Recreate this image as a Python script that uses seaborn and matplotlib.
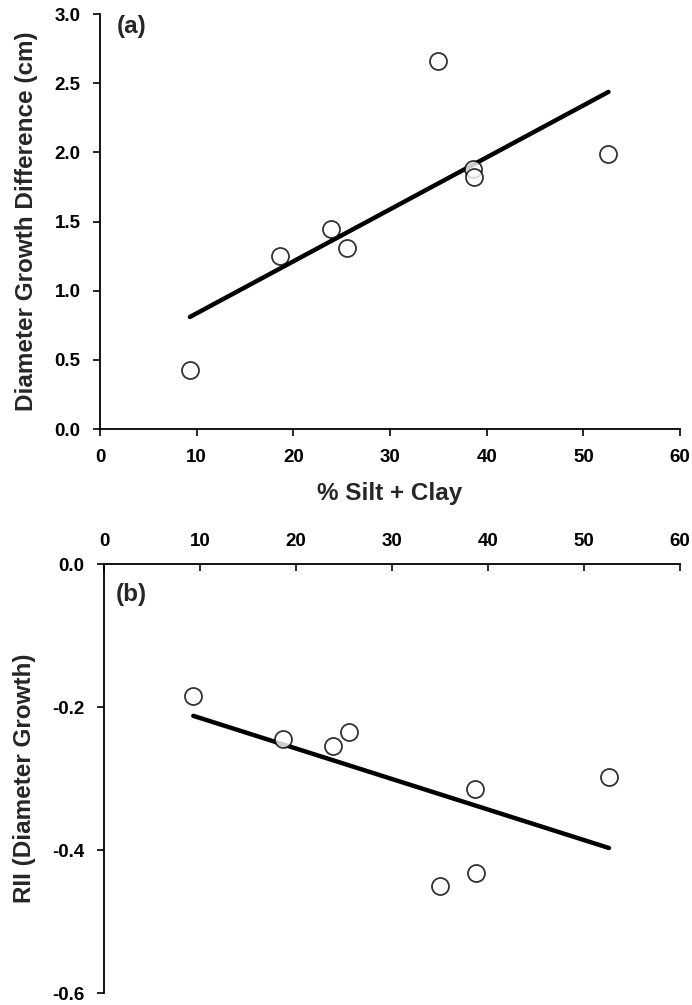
import matplotlib
matplotlib.use("Agg")
import matplotlib.pyplot as plt
import seaborn as sns
import pandas as pd

silt_clay = [9.3, 18.6, 23.9, 25.5, 35.0, 38.6, 38.7, 52.6]
diam_diff = [0.43, 1.25, 1.45, 1.31, 2.66, 1.88, 1.82, 1.99]
rii_diam = [-0.185, -0.245, -0.255, -0.235, -0.450, -0.315, -0.432, -0.298]

x_ticks = [0, 10, 20, 30, 40, 50, 60]
ya_ticks = [0.0, 0.5, 1.0, 1.5, 2.0, 2.5, 3.0]
yb_ticks = [0.0, -0.2, -0.4, -0.6]

df = pd.DataFrame({"x": silt_clay, "a": diam_diff, "b": rii_diam})

sns.set_style("ticks")
plt.rcParams["font.family"] = ["Liberation Sans", "DejaVu Sans"]
plt.rcParams["font.weight"] = "bold"

fig = plt.figure(figsize=(6.92, 10.05), dpi=100)
ax1 = fig.add_axes([0.1445, 0.573, 0.8382, 0.413])
ax2 = fig.add_axes([0.1503, 0.0119, 0.8324, 0.4269])

scatter_kws = dict(s=150, facecolors="white", edgecolors="black", linewidths=1.3, zorder=3)
line_kws = dict(color="black", lw=3.2, zorder=2)

for ax, col in ((ax1, "a"), (ax2, "b")):
    sns.regplot(data=df, x="x", y=col, ax=ax, ci=None, truncate=True,
                scatter_kws=scatter_kws, line_kws=line_kws, color="black")

LABEL_FS = 17.5
TICK_FS = 13.5

# Panel (a)
ax1.set_xlim(0, 60)
ax1.set_ylim(0, 3.0)
ax1.set_xticks(x_ticks)
ax1.set_yticks(ya_ticks)
ax1.set_yticklabels([f"{v:.1f}" for v in ya_ticks])
ax1.set_xlabel("% Silt + Clay", fontsize=LABEL_FS, fontweight="bold", labelpad=12)
ax1.set_ylabel("Diameter Growth Difference (cm)", fontsize=LABEL_FS, fontweight="bold", labelpad=12)
sns.despine(ax=ax1)
ax1.text(0.029, 0.997, "(a)", transform=ax1.transAxes, fontsize=LABEL_FS, fontweight="bold",
         va="top", ha="left")

# Panel (b)
ax2.set_xlim(0, 60)
ax2.set_ylim(-0.6, 0.0)
ax2.set_xticks(x_ticks)
ax2.set_yticks(yb_ticks)
ax2.set_yticklabels(["0.0", "-0.2", "-0.4", "-0.6"])
ax2.xaxis.tick_top()
ax2.set_xlabel("")
ax2.set_ylabel("RII (Diameter Growth)", fontsize=LABEL_FS, fontweight="bold", labelpad=12)
ax2.spines["bottom"].set_visible(False)
ax2.spines["right"].set_visible(False)
ax2.spines["top"].set_visible(True)
ax2.text(0.02, 0.955, "(b)", transform=ax2.transAxes, fontsize=LABEL_FS, fontweight="bold",
         va="top", ha="left")

for ax in (ax1, ax2):
    for sp in ax.spines.values():
        sp.set_linewidth(1.3)
        sp.set_color("black")
    ax.tick_params(length=5, width=1.2, labelsize=TICK_FS, colors="black", pad=9)
    for lab in ax.get_xticklabels() + ax.get_yticklabels():
        lab.set_fontweight("bold")

ax2.tick_params(axis="x", direction="in", top=True, bottom=False, pad=10)

fig.savefig("out.png", dpi=100)
